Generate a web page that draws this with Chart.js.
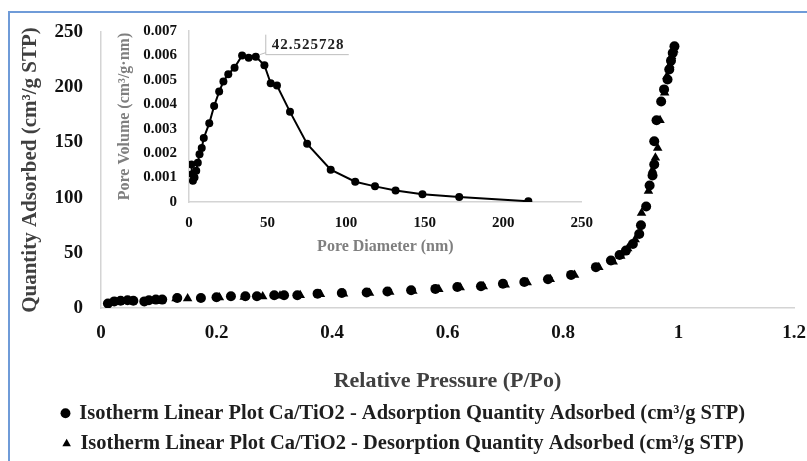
<!DOCTYPE html>
<html>
<head>
<meta charset="utf-8">
<script src="https://cdn.jsdelivr.net/npm/chart.js@4.4.0/dist/chart.umd.min.js"></script>
<style>
  html, body { margin: 0; padding: 0; background: #fff; }
  #wrap { position: relative; width: 807px; height: 461px; overflow: hidden; }
  #frame { position: absolute; left: 8px; top: 11px; width: 830px; height: 480px; border: 2px solid #6f9bd8; box-sizing: border-box; }
  #main { position: absolute; left: 0; top: 0; }
  #inset { position: absolute; left: 110px; top: 10px; }
</style>
</head>
<body>
<div id="wrap">
  <div id="frame"></div>
  <canvas id="main" width="807" height="461"></canvas>
  <canvas id="inset" width="495" height="250"></canvas>
</div>
<script>
// isotherm - adsorption branch (circles)
const pressureAds = [0.012, 0.023, 0.034, 0.046, 0.056, 0.075, 0.083, 0.095, 0.106, 0.132, 0.173, 0.2, 0.225, 0.25, 0.27,
  0.3, 0.317, 0.34, 0.375, 0.417, 0.46, 0.496, 0.537, 0.579, 0.617, 0.658, 0.696, 0.733, 0.774, 0.814, 0.857, 0.883,
  0.898, 0.909, 0.921, 0.932, 0.935, 0.944, 0.95, 0.955, 0.958, 0.958, 0.962, 0.97, 0.975, 0.981, 0.984, 0.987, 0.99, 0.993];
const quantityAds = [4, 6, 6.6, 7, 6.6, 6, 7, 7.6, 7.6, 9, 9, 9.7, 10.6, 10.6, 10.6,
  11.5, 11.5, 11.5, 13, 13.6, 14, 15, 16, 17.3, 19, 19.7, 22, 23.6, 26, 30, 37, 43,
  48, 52, 58, 67, 75, 92, 111, 120, 130, 151, 170, 187, 198, 207, 216, 224, 231, 237];

// isotherm - desorption branch (triangles)
const pressureDes = [0.992, 0.988, 0.985, 0.98, 0.976, 0.968, 0.964, 0.96, 0.955, 0.948, 0.936, 0.925, 0.912, 0.9,
  0.887, 0.862, 0.82, 0.778, 0.738, 0.7, 0.662, 0.622, 0.585, 0.54, 0.5, 0.465, 0.42, 0.38, 0.345, 0.31, 0.28,
  0.248, 0.205, 0.15, 0.13];
const quantityDes = [234, 228, 220, 210, 195, 170, 145, 136, 125, 106, 86, 62, 54, 47,
  42, 37, 30, 26, 23, 21, 19.5, 18.5, 17, 15.5, 14.5, 13.5, 13, 12.5, 11.5, 11, 10.5,
  10, 9.5, 8.5, 8.5];

// inset - pore size distribution
const poreDiameter = [1.5, 2, 2.5, 3.5, 4.6, 5.6, 6.7, 8.1, 9.4, 12.9, 16, 19.2, 21.9, 25, 29, 33.8, 38, 42.5,
  48, 52, 56, 64.3, 75.2, 90.2, 105.8, 118.4, 131.5, 148.6, 172, 216];
const poreVolume = [0.00154, 0.00114, 0.00087, 0.001, 0.00128, 0.00161, 0.00195, 0.00221, 0.00262, 0.00322, 0.00393,
  0.00452, 0.00493, 0.00523, 0.0055, 0.006, 0.0059, 0.00595, 0.0056, 0.00486, 0.00477, 0.00369, 0.00238, 0.00132,
  0.00083, 0.00064, 0.00047, 0.00032, 0.0002, 0.00003];
const peakLabel = '42.525728';
const peakIndex = 17;

const labelAds = 'Isotherm Linear Plot Ca/TiO2 - Adsorption Quantity Adsorbed (cm³/g STP)';
const labelDes = 'Isotherm Linear Plot Ca/TiO2 - Desorption Quantity Adsorbed (cm³/g STP)';

const serif = "'Liberation Serif', 'Times New Roman', serif";
const axisGrey = '#d4d4d4';
const noGrid = { drawOnChartArea: false, drawTicks: false, color: 'rgba(0,0,0,0)' };

function pts(xs, ys) {
  return xs.map((x, i) => ({ x: x, y: ys[i] }));
}

new Chart(document.getElementById('main'), {
  type: 'scatter',
  data: {
    datasets: [{
      label: labelAds,
      data: pts(pressureAds, quantityAds),
      pointStyle: 'circle',
      pointRadius: 5,
      backgroundColor: '#000',
      borderColor: '#000',
      borderWidth: 0
    }, {
      label: labelDes,
      data: pts(pressureDes, quantityDes),
      pointStyle: 'triangle',
      pointRadius: 5.5,
      backgroundColor: '#000',
      borderColor: '#000',
      borderWidth: 0
    }]
  },
  options: {
    responsive: false,
    animation: false,
    layout: { padding: { top: 32, right: 0, left: 0, bottom: -3 } },
    plugins: {
      tooltip: { enabled: false },
      legend: {
        position: 'bottom',
        labels: {
          usePointStyle: true,
          boxWidth: 7,
          boxHeight: 7,
          padding: 10,
          color: '#1e1e1e',
          font: { family: serif, size: 20.5, weight: 'bold' }
        }
      }
    },
    scales: {
      x: {
        type: 'linear',
        min: 0,
        max: 1.2,
        grid: noGrid,
        border: { color: axisGrey, width: 1.5 },
        ticks: {
          stepSize: 0.2,
          padding: 14,
          color: '#111',
          font: { family: serif, size: 19, weight: 'bold' },
          callback: v => String(Math.round(v * 10) / 10)
        },
        title: {
          display: true,
          text: 'Relative Pressure (P/Po)',
          color: '#404040',
          font: { family: serif, size: 22, weight: 'bold' },
          padding: { top: 0, bottom: -2 }
        },
        afterFit: s => { s.height = 85; s.paddingRight = 13; }
      },
      y: {
        min: 0,
        max: 250,
        grid: noGrid,
        border: { color: axisGrey, width: 1.5 },
        ticks: {
          stepSize: 50,
          padding: 18,
          color: '#111',
          font: { family: serif, size: 19, weight: 'bold' }
        },
        title: {
          display: true,
          text: 'Quantity Adsorbed (cm³/g STP)',
          color: '#404040',
          font: { family: serif, size: 21, weight: 'bold' },
          padding: { top: 18, bottom: 0 }
        },
        afterFit: s => { s.width = 101; }
      }
    }
  }
});

// little callout for the peak of the pore distribution
const peakCallout = {
  id: 'peakCallout',
  afterDatasetsDraw(chart) {
    const p = chart.getDatasetMeta(0).data[peakIndex];
    const ctx = chart.ctx;
    ctx.save();
    ctx.strokeStyle = '#bdbdbd';
    ctx.lineWidth = 1;
    ctx.beginPath();
    ctx.moveTo(p.x + 4, p.y - 2);
    ctx.lineTo(p.x + 10, p.y - 4);
    ctx.moveTo(p.x + 10, p.y - 2);
    ctx.lineTo(p.x + 10, p.y - 22);
    ctx.moveTo(p.x + 10, p.y - 2);
    ctx.lineTo(p.x + 93, p.y - 2);
    ctx.stroke();
    ctx.fillStyle = '#222';
    ctx.font = 'bold 15px ' + serif;
    ctx.letterSpacing = '1px';
    ctx.textBaseline = 'middle';
    ctx.fillText(peakLabel, p.x + 16, p.y - 12);
    ctx.restore();
  }
};

new Chart(document.getElementById('inset'), {
  type: 'scatter',
  data: {
    datasets: [{
      data: pts(poreDiameter, poreVolume),
      showLine: true,
      borderColor: '#000',
      borderWidth: 2,
      backgroundColor: '#000',
      pointRadius: 4,
      pointBorderWidth: 0,
      tension: 0
    }]
  },
  options: {
    responsive: false,
    animation: false,
    layout: { padding: { top: 12, right: 17, left: 0, bottom: 0 } },
    plugins: { legend: { display: false }, tooltip: { enabled: false } },
    scales: {
      x: {
        type: 'linear',
        min: 0,
        max: 250,
        grid: noGrid,
        border: { color: axisGrey, width: 1.5 },
        ticks: {
          stepSize: 50,
          padding: 12,
          color: '#111',
          font: { family: serif, size: 15, weight: 'bold' }
        },
        title: {
          display: true,
          text: 'Pore Diameter (nm)',
          color: '#7f7f7f',
          font: { family: serif, size: 16, weight: 'bold' },
          padding: { top: 0, bottom: 4 }
        },
        afterFit: s => { s.height = 58; }
      },
      y: {
        min: 0,
        max: 0.007,
        grid: noGrid,
        border: { color: axisGrey, width: 1.5 },
        ticks: {
          stepSize: 0.001,
          padding: 12,
          color: '#111',
          font: { family: serif, size: 15, weight: 'bold' },
          callback: v => v === 0 ? '0' : v.toFixed(3)
        },
        title: {
          display: true,
          text: 'Pore Volume (cm³/g·nm)',
          color: '#7f7f7f',
          font: { family: serif, size: 16, weight: 'bold' },
          padding: { top: 5, bottom: 0 }
        },
        afterFit: s => { s.width = 79; }
      }
    }
  },
  plugins: [peakCallout]
});
</script>
</body>
</html>
